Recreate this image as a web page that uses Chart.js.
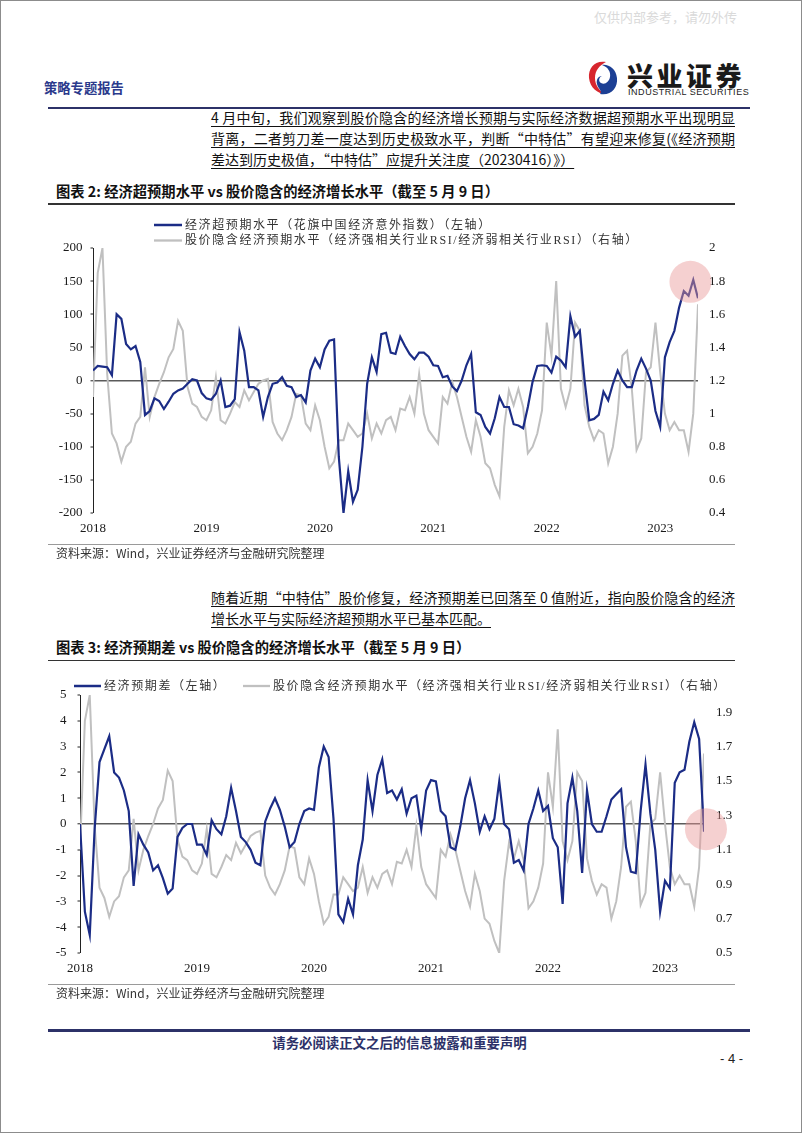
<!DOCTYPE html>
<html>
<head>
<meta charset="utf-8">
<script src="https://cdn.jsdelivr.net/npm/chart.js@4.4.1/dist/chart.umd.min.js"></script>
<style>
  html, body { margin: 0; padding: 0; background: #fff; }
  #page { position: relative; width: 802px; height: 1133px; box-sizing: border-box; border: 1px solid #8c8c8c; overflow: hidden;
          font-family: "Noto Sans CJK SC", sans-serif; color: #111; }
  .abs { position: absolute; white-space: nowrap; }
  .para { position: absolute; left: 210px; width: 524px; font-size: 14px; line-height: 21px; color: #111;
          text-decoration: underline; text-underline-offset: 3px; text-decoration-thickness: 1px; white-space: nowrap; }
  .just { text-align: justify; text-align-last: justify; }
  .title { position: absolute; left: 55px; font-size: 14.3px; font-weight: 700; line-height: 20px; color: #111; white-space: nowrap; }
  .rule { position: absolute; }
  .src { position: absolute; left: 55px; font-size: 12px; line-height: 16px; color: #333; white-space: nowrap; }
  canvas { position: absolute; left: 0; }
</style>
</head>
<body>
<div id="page">
  <div class="abs" style="left:593px;top:8px;font-size:13px;line-height:16px;color:#dadada;">仅供内部参考，请勿外传</div>
  <div class="abs" style="left:43px;top:78px;font-size:13.3px;line-height:17px;font-weight:700;color:#2b3a8c;">策略专题报告</div>
  <svg class="abs" style="left:586px;top:58px;" width="32" height="38" viewBox="0 0 32 38">
    <path d="M19 3 C8 1 1 9 2 19 C3 29 11 35 19 35 C12 32 8 26 8 19 C8 11 13 6 19 3 Z" fill="#d7262e"/>
    <path d="M13 35 C24 37 31 29 30 19 C29 10 22 5 15 6 C21 8 24 13 23 18 C22 23 18 26 14 24 C11 22 12 18 15 17 C11 17 9 21 10 25 C11 30 16 32 13 35 Z" fill="#1c3f94"/>
  </svg>
  <div class="abs" style="left:626px;top:58px;font-size:26px;line-height:32px;font-weight:900;letter-spacing:3.5px;color:#1a1a1a;">兴业证券</div>
  <div class="abs" style="left:627px;top:85px;font-size:9px;line-height:12px;font-family:'Liberation Sans',sans-serif;color:#222;letter-spacing:0.55px;">INDUSTRIAL SECURITIES</div>
  <div class="rule" style="left:47px;top:106px;width:702px;height:2px;background:#2c3168;"></div>

  <div class="para just" style="top:106px;">4 月中旬，我们观察到股价隐含的经济增长预期与实际经济数据超预期水平出现明显</div>
  <div class="para just" style="top:127px;">背离，二者剪刀差一度达到历史极致水平，判断“中特估”有望迎来修复(《经济预期</div>
  <div class="para" style="top:148px;width:auto;">差达到历史极值，“中特估”应提升关注度（20230416）》）</div>

  <div class="title" style="top:180px;">图表 2: 经济超预期水平 vs 股价隐含的经济增长水平（截至 5 月 9 日）</div>
  <div class="rule" style="left:47px;top:202px;width:687px;height:1.5px;background:#333;"></div>

  <canvas id="c1" width="802" height="345" style="top:200px;width:802px;height:345px;"></canvas>

  <div class="rule" style="left:47px;top:543px;width:687px;height:1px;background:#9a9a9a;"></div>
  <div class="src" style="top:544px;">资料来源：Wind，兴业证券经济与金融研究院整理</div>

  <div class="para just" style="top:586px;">随着近期“中特估”股价修复，经济预期差已回落至 0 值附近，指向股价隐含的经济</div>
  <div class="para" style="top:607px;width:auto;">增长水平与实际经济超预期水平已基本匹配。</div>

  <div class="title" style="top:636px;">图表 3: 经济预期差 vs 股价隐含的经济增长水平（截至 5 月 9 日）</div>
  <div class="rule" style="left:47px;top:658.5px;width:687px;height:1.5px;background:#333;"></div>

  <canvas id="c2" width="802" height="330" style="top:660px;width:802px;height:330px;"></canvas>

  <div class="rule" style="left:47px;top:983px;width:687px;height:1px;background:#9a9a9a;"></div>
  <div class="src" style="top:984px;">资料来源：Wind，兴业证券经济与金融研究院整理</div>

  <div class="rule" style="left:47px;top:1028px;width:702px;height:2.5px;background:#2c3168;"></div>
  <div class="abs" style="left:271px;top:1032px;width:255px;text-align:center;font-size:13.4px;line-height:18px;font-weight:700;color:#2c3168;">请务必阅读正文之后的信息披露和重要声明</div>
  <div class="abs" style="left:719px;top:1050px;font-size:13px;line-height:16px;color:#222;font-family:'Liberation Sans',sans-serif;">- 4 -</div>
</div>

<script>
// ---------- data (half-monthly samples, Jan 2018 – early May 2023) ----------
const yearLabels = ['2018', '2019', '2020', '2021', '2022', '2023'];
const periodsPerYear = 24;

// 经济超预期水平（花旗中国经济意外指数）
const citiSurprise = [
  15, 22, 21, 20, 8, 100, 93, 55, 47, 52, 28, -52, -46, -27, -31, -43, -32, -20, -15, -12,
  -5, 2, 0, -19, -27, -29, -20, 0, -40, -38, -28, 73, 45, -10, -10, -15, -55, -25, -5, -3,
  5, -8, -10, -25, -22, -33, 15, 33, 20, 47, 60, 62, -115, -200, -137, -183, -165, -100, -5, 35,
  13, 70, 72, 42, 40, 66, 52, 40, 32, 42, 42, 36, 23, 22, 5, 7, -9, -16, 0, 23,
  40, -48, -52, -70, -80, -57, -25, -40, -40, -66, -68, -72, -40, -2, 22, 23, 22, 12, 36, 30,
  20, 97, 66, 75, 0, -60, -58, -52, -17, -30, -5, 15, 0, -10, -10, 15, 33, 18, 0, -46,
  -70, 35, 58, 75, 110, 135, 128, 152, 124
];

// 股价隐含经济预期水平（经济强相关行业RSI/经济弱相关行业RSI）
const rsiRatio = [
  1.10, 1.85, 2.00, 1.24, 0.88, 0.82, 0.71, 0.80, 0.83, 0.94, 0.98, 1.28, 0.98, 1.10, 1.18, 1.25, 1.34, 1.39, 1.56, 1.50,
  1.16, 1.06, 1.04, 0.98, 0.96, 1.02, 1.22, 0.96, 0.94, 1.00, 1.07, 1.04, 1.14, 1.08, 1.13, 1.18, 1.20, 1.21, 0.95, 0.88,
  0.84, 0.90, 0.98, 1.12, 1.11, 0.94, 0.90, 1.05, 0.96, 0.80, 0.67, 0.71, 0.84, 0.84, 0.94, 0.90, 0.86, 0.88, 1.00, 0.85,
  0.94, 0.88, 0.96, 0.98, 0.90, 1.03, 1.02, 1.10, 1.00, 1.24, 1.00, 0.90, 0.86, 0.82, 1.10, 1.06, 1.19, 1.10, 0.98, 0.86,
  0.77, 0.96, 0.86, 0.70, 0.67, 0.57, 0.50, 0.92, 1.14, 1.05, 1.15, 1.04, 0.76, 0.80, 0.88, 1.02, 1.55, 1.35, 1.80, 1.15,
  1.04, 1.15, 1.55, 1.50, 1.05, 0.92, 0.84, 0.90, 0.88, 0.70, 0.80, 1.00, 1.35, 1.38, 1.15, 0.78, 0.85, 1.25, 1.28, 1.55,
  1.25, 1.00, 0.90, 0.95, 0.90, 0.90, 0.77, 1.00, 1.66
];

// 经济预期差
const expectationGap = [
  0, -3.4, -4.3, -0.2, 2.4, 2.9, 3.4, 2.0, 1.8, 1.3, 0.5, -2.4, -0.4, -0.8, -1.1, -1.8, -1.6, -2.1, -2.7, -2.5,
  -0.5, -0.15, 0.0, 0.0, -0.8, -0.8, -1.2, 0.15, -0.2, -0.4, 0.3, 1.4, 0.5, -0.5, -0.7, -1.0, -1.5, -1.6, 0.1, 0.6,
  1.0, 0.55, -0.1, -0.9, -0.7, 0.0, 0.5, 0.6, 0.55, 2.2, 3.0, 2.6, 0.2, -3.5, -3.8, -2.9, -3.5, -1.6, -0.6, 1.7,
  0.5, 1.9, 2.5, 1.2, 1.3, 0.95, 1.35, 0.4, 1.0, 1.1, -0.2, 1.3, 1.7, 1.65, 0.5, 0.3, -0.9, -1.0, -0.1, 1.0,
  1.7, 0.8, -0.3, 0.3, -0.2, 0.2, 1.65, 0.0, -0.2, -1.5, -1.4, -1.8, 0.0, 0.6, 1.3, 0.5, 0.7, -0.55, -0.9, -3.1,
  0.8, 1.8, 0.5, -1.9, 1.3, 0.0, -0.3, -0.3, 0.3, 0.95, 1.15, 1.35, -0.9, -1.85, -1.9, 0.5, 2.3, 0.4, -1.0, -3.4,
  -2.2, -2.5, 1.6, 2.0, 2.1, 3.2, 3.95, 3.3, -0.3
];

// axis tick values
const leftTicks1 = [-200, -150, -100, -50, 0, 50, 100, 150, 200];
const rightTicks1 = [0.4, 0.6, 0.8, 1, 1.2, 1.4, 1.6, 1.8, 2];
const leftTicks2 = [-5, -4, -3, -2, -1, 0, 1, 2, 3, 4, 5];
const rightTicks2 = [0.5, 0.7, 0.9, 1.1, 1.3, 1.5, 1.7, 1.9];

// legend labels
const legend1 = ['经济超预期水平（花旗中国经济意外指数）（左轴）', '股价隐含经济预期水平（经济强相关行业RSI/经济弱相关行业RSI）（右轴）'];
const legend2 = ['经济预期差（左轴）', '股价隐含经济预期水平（经济强相关行业RSI/经济弱相关行业RSI）（右轴）'];

// ---------- styling ----------
const BLUE = '#1b2c86';
const GRAY = '#c0c0c0';
const AXIS_FONT = { family: "'Liberation Serif', 'Times New Roman', serif", size: 13 };

const toXY = arr => arr.map((v, i) => ({ x: i, y: v }));

const lineLegend = {
  id: 'lineLegend',
  afterDraw(chart, args, opts) {
    const ctx = chart.ctx;
    ctx.save();
    chart.data.datasets.forEach((ds, k) => {
      const p = opts.items[k];
      ctx.strokeStyle = ds.borderColor;
      ctx.lineWidth = ds.borderWidth + 0.3;
      ctx.beginPath();
      ctx.moveTo(p.x, p.y);
      ctx.lineTo(p.x + opts.lineLength, p.y);
      ctx.stroke();
      ctx.font = opts.font;
      if ('letterSpacing' in ctx) ctx.letterSpacing = opts.letterSpacing;
      ctx.fillStyle = opts.color;
      ctx.textBaseline = 'middle';
      ctx.textAlign = 'left';
      ctx.fillText(ds.label, p.x + opts.lineLength + opts.gap, p.y + 0.5);
    });
    ctx.restore();
  }
};

const highlight = {
  id: 'highlight',
  afterDatasetsDraw(chart, args, opts) {
    const ctx = chart.ctx;
    const x = chart.scales.x.getPixelForValue(opts.x);
    const y = chart.scales.y.getPixelForValue(opts.y);
    ctx.save();
    ctx.fillStyle = opts.color;
    ctx.beginPath();
    ctx.arc(x, y, opts.radius, 0, Math.PI * 2);
    ctx.fill();
    ctx.restore();
  }
};

function makeChart(id, cfg) {
  const tickList = list => (s => { s.ticks = list.map(v => ({ value: v })); });
  return new Chart(document.getElementById(id), {
    type: 'line',
    data: {
      datasets: [
        { label: cfg.labels[0], data: toXY(cfg.left), yAxisID: 'y', borderColor: BLUE, backgroundColor: BLUE,
          borderWidth: 2.2, pointRadius: 0, tension: 0 },
        { label: cfg.labels[1], data: toXY(cfg.right), yAxisID: 'y1', borderColor: GRAY, backgroundColor: GRAY,
          borderWidth: 2.0, pointRadius: 0, tension: 0 }
      ]
    },
    options: {
      responsive: false,
      animation: false,
      devicePixelRatio: 1,
      events: [],
      layout: { padding: cfg.padding },
      plugins: {
        legend: { display: false },
        tooltip: { enabled: false },
        lineLegend: cfg.legend,
        highlight: cfg.circle
      },
      scales: {
        x: {
          type: 'linear', min: 0, max: 128,
          afterBuildTicks: s => { s.ticks = yearLabels.map((_, k) => ({ value: k * periodsPerYear })); },
          afterFit: s => { s.height = 25; },
          border: { display: false },
          grid: { display: false, drawTicks: false },
          ticks: { padding: 8, color: '#1a1a1a', font: AXIS_FONT, maxRotation: 0, autoSkip: false,
                   callback: v => yearLabels[Math.round(v / periodsPerYear)] }
        },
        y: {
          position: 'left', min: cfg.leftTicks[0], max: cfg.leftTicks[cfg.leftTicks.length - 1],
          afterBuildTicks: tickList(cfg.leftTicks),
          afterFit: s => { s.width = 40; },
          border: { display: true, color: '#222', width: 1 },
          grid: {
            display: true, drawOnChartArea: true, drawTicks: true, tickLength: 2.5, tickColor: '#222', tickWidth: 1,
            color: c => (c.tick && c.tick.value === 0) ? '#5a5a5a' : 'rgba(0,0,0,0)',
            lineWidth: c => (c.tick && c.tick.value === 0) ? 1.6 : 0
          },
          ticks: { padding: cfg.leftPad, color: '#1a1a1a', font: AXIS_FONT, autoSkip: false, callback: v => String(v) }
        },
        y1: {
          position: 'right', min: cfg.rightMin, max: cfg.rightMax,
          afterBuildTicks: tickList(cfg.rightTicks),
          afterFit: s => { s.width = 40; },
          border: { display: false },
          grid: { display: false, drawTicks: false },
          ticks: { padding: cfg.rightPad, color: '#1a1a1a', font: AXIS_FONT, autoSkip: false, callback: v => String(v) }
        }
      }
    },
    plugins: [lineLegend, highlight]
  });
}

const LEGEND_FONT = "12px 'Liberation Serif', 'Noto Sans CJK SC', serif";

function draw() {
  makeChart('c1', {
    labels: legend1, left: citiSurprise, right: rsiRatio,
    leftTicks: leftTicks1, rightTicks: rightTicks1, rightMin: 0.4, rightMax: 2.0,
    leftPad: 8, rightPad: 11,
    padding: { left: 52, right: 65, top: 47, bottom: 8 },
    legend: { items: [{ x: 153, y: 24 }, { x: 153, y: 39.5 }], lineLength: 28, gap: 3,
              font: LEGEND_FONT, letterSpacing: '1.6px', color: '#333' },
    circle: { x: 126.4, y: 149, radius: 21, color: 'rgba(232, 150, 150, 0.45)' }
  });
  makeChart('c2', {
    labels: legend2, left: expectationGap, right: rsiRatio,
    leftTicks: leftTicks2, rightTicks: rightTicks2, rightMin: 0.5, rightMax: 2.0,
    leftPad: 11, rightPad: 12,
    padding: { left: 39, right: 59, top: 34, bottom: 13 },
    legend: { items: [{ x: 73, y: 25 }, { x: 242, y: 25 }], lineLength: 27, gap: 3,
              font: LEGEND_FONT, letterSpacing: '1.6px', color: '#333' },
    circle: { x: 128.4, y: -0.2, radius: 21, color: 'rgba(232, 150, 150, 0.45)' }
  });
}

if (document.fonts && document.fonts.ready) {
  document.fonts.ready.then(draw);
} else {
  draw();
}
</script>
</body>
</html>
